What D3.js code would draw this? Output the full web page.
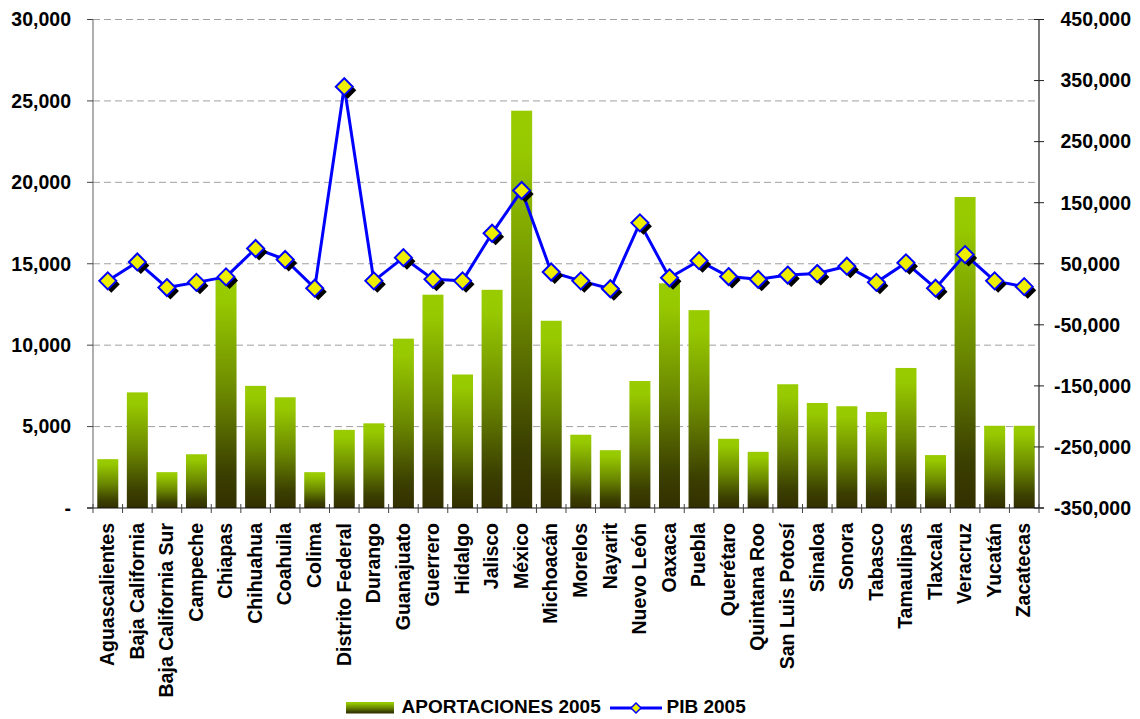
<!DOCTYPE html>
<html>
<head>
<meta charset="utf-8">
<script src="https://cdn.jsdelivr.net/npm/d3@7/dist/d3.min.js"></script>
<style>
  html, body { margin: 0; padding: 0; background: #ffffff; }
  svg { display: block; font-family: "Liberation Sans", Arial, sans-serif; font-weight: bold; }
</style>
</head>
<body>
<svg id="chart" width="1140" height="719"></svg>
<script>
// States of Mexico
const states = ["Aguascalientes","Baja California","Baja California Sur","Campeche","Chiapas","Chihuahua","Coahuila","Colima","Distrito Federal","Durango","Guanajuato","Guerrero","Hidalgo","Jalisco","México","Michoacán","Morelos","Nayarit","Nuevo León","Oaxaca","Puebla","Querétaro","Quintana Roo","San Luis Potosí","Sinaloa","Sonora","Tabasco","Tamaulipas","Tlaxcala","Veracruz","Yucatán","Zacatecas"];

// Federal contributions 2005 (left axis)
const aportaciones = [3000, 7100, 2200, 3300, 14150, 7500, 6800, 2200, 4800, 5200, 10400, 13100, 8200, 13400, 24400, 11500, 4500, 3550, 7800, 13800, 12150, 4250, 3450, 7600, 6450, 6250, 5900, 8600, 3250, 19100, 5050, 5050];

// GDP 2005 (right axis)
const pib = [22000, 53000, 11000, 19500, 28500, 75000, 57000, 10000, 340000, 22000, 60000, 24500, 22000, 100000, 170000, 36500, 22000, 9000, 117000, 27000, 55000, 29000, 24500, 31500, 34000, 46000, 19500, 51500, 10000, 65000, 22000, 12500];

// Axis ticks
const leftTicks = [0, 5000, 10000, 15000, 20000, 25000, 30000];
const rightTicks = [-350000, -250000, -150000, -50000, 50000, 150000, 250000, 350000, 450000];

const seriesNames = ["APORTACIONES 2005", "PIB 2005"];

const svg = d3.select("#chart");
const plot = { left: 93, right: 1039, top: 19.5, bottom: 508 };

const x = d3.scaleBand()
  .domain(states)
  .range([plot.left, plot.right])
  .paddingInner(0.29)
  .paddingOuter(0.145);
const step = x.step();

const yL = d3.scaleLinear().domain([0, 30000]).range([plot.bottom, plot.top]);
const yR = d3.scaleLinear().domain([-350000, 450000]).range([plot.bottom, plot.top]);

const fmt = d3.format(",");

// Bar gradient: bright green at the top fading to dark olive at the base
const defs = svg.append("defs");
const grad = defs.append("linearGradient")
  .attr("id", "barGrad")
  .attr("x1", 0).attr("y1", 0).attr("x2", 0).attr("y2", 1);
[[0, "#99cc00"], [0.1, "#97c900"], [0.5, "#6b8800"], [0.85, "#3b3f00"], [1, "#332f00"]]
  .forEach(([o, c]) => grad.append("stop").attr("offset", o).attr("stop-color", c));

// Horizontal dashed gridlines
svg.append("g")
  .selectAll("line")
  .data(leftTicks.filter(d => d > 0))
  .join("line")
  .attr("x1", plot.left).attr("x2", plot.right)
  .attr("y1", d => yL(d)).attr("y2", d => yL(d))
  .attr("stroke", "#a0a0a0")
  .attr("stroke-width", 1)
  .attr("stroke-dasharray", "7,4");

// Bars
svg.append("g")
  .selectAll("rect")
  .data(states)
  .join("rect")
  .attr("x", d => x(d))
  .attr("width", x.bandwidth())
  .attr("y", (d, i) => yL(aportaciones[i]))
  .attr("height", (d, i) => yL(0) - yL(aportaciones[i]))
  .attr("fill", "url(#barGrad)");

// Left axis
const gL = svg.append("g").attr("transform", `translate(${plot.left},0)`);
gL.append("line")
  .attr("x1", 0).attr("x2", 0).attr("y1", plot.top).attr("y2", plot.bottom)
  .attr("stroke", "#7a7a7a").attr("stroke-width", 1.2);
gL.selectAll("line.tick")
  .data(leftTicks)
  .join("line")
  .attr("class", "tick")
  .attr("x1", -6).attr("x2", 0)
  .attr("y1", d => yL(d)).attr("y2", d => yL(d))
  .attr("stroke", "#444").attr("stroke-width", 1);
gL.selectAll("text")
  .data(leftTicks)
  .join("text")
  .attr("x", -22)
  .attr("y", d => yL(d))
  .attr("dy", "0.35em")
  .attr("text-anchor", "end")
  .attr("font-size", 19.5)
  .attr("fill", "#000")
  .text(d => d === 0 ? "-" : fmt(d));

// Right axis
const gR = svg.append("g").attr("transform", `translate(${plot.right},0)`);
gR.append("line")
  .attr("x1", 0).attr("x2", 0).attr("y1", plot.top).attr("y2", plot.bottom)
  .attr("stroke", "#222").attr("stroke-width", 1.2);
gR.selectAll("line.tick")
  .data(rightTicks)
  .join("line")
  .attr("class", "tick")
  .attr("x1", -5).attr("x2", 5)
  .attr("y1", d => yR(d)).attr("y2", d => yR(d))
  .attr("stroke", "#222").attr("stroke-width", 1);
gR.selectAll("text")
  .data(rightTicks)
  .join("text")
  .attr("x", d => d < 0 ? 15 : 21.5)
  .attr("y", d => yR(d))
  .attr("dy", "0.35em")
  .attr("text-anchor", "start")
  .attr("font-size", 19.5)
  .attr("fill", "#000")
  .text(d => fmt(d).replace("−", "-"));

// Bottom axis with category boundary ticks
const gB = svg.append("g");
gB.append("line")
  .attr("x1", plot.left - 6).attr("x2", plot.right + 5)
  .attr("y1", plot.bottom).attr("y2", plot.bottom)
  .attr("stroke", "#111").attr("stroke-width", 1.2);
gB.selectAll("line.tick")
  .data(d3.range(states.length + 1))
  .join("line")
  .attr("class", "tick")
  .attr("x1", i => plot.left + i * step).attr("x2", i => plot.left + i * step)
  .attr("y1", plot.bottom - 4).attr("y2", plot.bottom + 5)
  .attr("stroke", "#444").attr("stroke-width", 1);
gB.selectAll("text")
  .data(states)
  .join("text")
  .attr("transform", d => `translate(${x(d) + x.bandwidth() / 2},${plot.bottom + 15}) rotate(-90)`)
  .attr("dy", "0.32em")
  .attr("text-anchor", "end")
  .attr("font-size", 19.5)
  .attr("fill", "#000")
  .text(d => d);

// GDP line with diamond markers
const cx = i => x(states[i]) + x.bandwidth() / 2;
const line = d3.line().x((d, i) => cx(i)).y(d => yR(d));
svg.append("path")
  .datum(pib)
  .attr("d", line)
  .attr("fill", "none")
  .attr("stroke", "#0000ff")
  .attr("stroke-width", 3)
  .attr("stroke-linejoin", "round");

const diamond = r => `M0,${-r}L${r},0L0,${r}L${-r},0Z`;
const gM = svg.append("g");
gM.selectAll("path.shadow")
  .data(pib)
  .join("path")
  .attr("class", "shadow")
  .attr("d", diamond(8.5))
  .attr("transform", (d, i) => `translate(${cx(i) + 3.5},${yR(d) + 3.5})`)
  .attr("fill", "#000");
gM.selectAll("path.marker")
  .data(pib)
  .join("path")
  .attr("class", "marker")
  .attr("d", diamond(8.5))
  .attr("transform", (d, i) => `translate(${cx(i)},${yR(d)})`)
  .attr("fill", "#eeee00")
  .attr("stroke", "#0000ff")
  .attr("stroke-width", 2);

// Legend
const gLeg = svg.append("g");
gLeg.append("rect")
  .attr("x", 346).attr("y", 702).attr("width", 48).attr("height", 11.5)
  .attr("fill", "url(#barGrad)");
gLeg.append("text")
  .attr("x", 401.5).attr("y", 713.3)
  .attr("font-size", 19)
  .attr("fill", "#000")
  .text(seriesNames[0]);
gLeg.append("line")
  .attr("x1", 610).attr("x2", 662).attr("y1", 708).attr("y2", 708)
  .attr("stroke", "#0000ff").attr("stroke-width", 3);
gLeg.append("path")
  .attr("d", diamond(5))
  .attr("transform", "translate(636,708)")
  .attr("fill", "#eeee00")
  .attr("stroke", "#0000ff")
  .attr("stroke-width", 1.5);
gLeg.append("text")
  .attr("x", 666.5).attr("y", 713.3)
  .attr("font-size", 19)
  .attr("fill", "#000")
  .text(seriesNames[1]);
</script>
</body>
</html>
